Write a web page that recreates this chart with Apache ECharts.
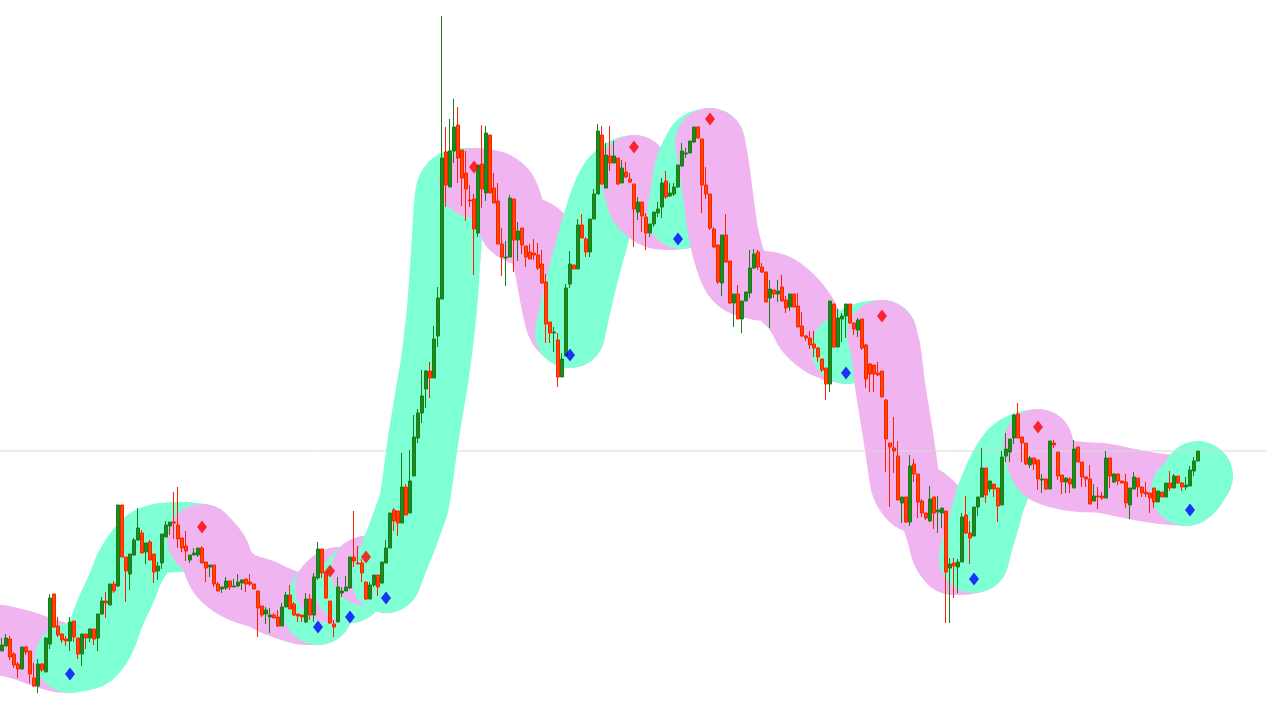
<!DOCTYPE html>
<html>
<head>
<meta charset="utf-8">
<script src="https://cdn.jsdelivr.net/npm/echarts/dist/echarts.min.js"></script>
<style>
html,body{margin:0;padding:0;background:#ffffff;}
#chart{width:1266px;height:702px;}
</style>
</head>
<body>
<div id="chart"></div>
<script>
// Price scale: larger number = lower on screen (axis inverted).
// Each candle: [open, close, wickTop, wickBottom]
const candles = [
[651,645,638,651],[646,638,634,646],[639,657,636,660],[654,665,652,668],[664,669,662,678],
[669,647,647,669],[647,652,646,655],[651,674,651,683],[678,686,663,687],[686,664,659,693],
[664,670,663,672],[672,638,637,672],[644,598,594,649],[594,627,594,628],[626,635,617,637],
[634,640,633,643],[639,641,636,646],[641,622,617,651],[621,637,621,642],[638,654,638,659],
[654,634,634,666],[634,638,634,649],[638,629,628,642],[629,639,629,645],[638,614,614,651],
[614,601,597,615],[601,603,592,618],[605,584,584,605],[584,591,581,593],[586,505,505,587],
[505,557,505,557],[557,571,557,602],[574,554,554,590],[555,540,538,556],[540,528,508,541],
[533,553,530,553],[552,543,543,564],[542,560,540,560],[554,572,554,583],[571,566,562,580],
[563,534,534,569],[537,525,521,537],[526,522,522,535],[522,523,492,539],[525,539,487,548],
[538,548,538,552],[546,551,531,561],[560,555,555,563],[555,553,548,555],[555,548,548,557],
[548,563,546,563],[562,568,562,582],[567,565,565,577],[565,584,565,587],[584,591,582,591],
[589,587,587,593],[588,581,577,590],[581,587,581,590],[587,586,579,587],[586,582,574,587],
[583,580,579,590],[579,584,579,592],[582,584,574,586],[584,589,584,589],[591,608,591,637],
[606,615,606,617],[614,610,607,624],[617,615,608,633],[615,618,613,618],[617,626,610,627],
[626,607,603,626],[607,595,592,607],[595,609,585,609],[604,615,602,616],[614,616,614,622],
[615,617,615,622],[622,599,593,623],[599,615,594,620],[615,577,573,622],[578,549,542,580],
[549,573,549,578],[572,598,572,599],[601,623,601,624],[624,627,620,637],[622,587,577,622],
[593,591,587,597],[591,587,576,591],[588,557,557,589],[557,561,511,567],[563,564,546,564],
[563,573,559,582],[582,599,582,600],[599,585,582,599],[585,575,575,587],[575,587,575,596],
[583,562,562,584],[563,548,540,563],[548,513,513,548],[510,521,508,531],[511,523,511,536],
[523,487,453,523],[487,515,484,515],[513,481,450,513],[476,437,415,476],[438,413,409,443],
[413,396,370,423],[389,371,370,408],[371,378,362,398],[378,339,326,378],[336,298,287,347],
[299,158,16,299],[152,185,127,207],[187,151,119,187],[151,127,99,163],[125,158,107,183],
[150,178,150,206],[173,189,151,221],[200,201,185,207],[199,229,194,275],[233,165,165,237],
[164,189,125,208],[193,133,126,201],[135,193,135,193],[188,203,173,203],[201,244,183,244],
[244,257,228,276],[258,257,241,286],[257,198,195,257],[199,240,199,272],[240,231,222,261],
[228,245,228,254],[246,257,246,267],[252,259,244,259],[253,255,239,260],[255,268,243,270],
[264,283,250,284],[282,324,274,343],[322,333,322,343],[333,332,327,352],[340,377,333,387],
[377,359,353,377],[356,288,284,356],[284,264,251,288],[265,269,265,269],[269,225,219,269],
[225,238,214,238],[239,252,237,257],[252,219,219,257],[219,194,189,219],[194,131,124,194],
[135,184,126,185],[188,155,143,188],[156,163,126,171],[163,156,141,163],[158,184,158,185],
[183,168,160,183],[172,177,162,178],[179,182,173,183],[184,209,184,247],[212,202,197,220],
[202,216,202,232],[217,233,213,250],[233,224,224,237],[224,212,212,227],[213,209,202,217],
[207,183,178,218],[181,197,171,199],[196,193,183,197],[194,187,183,196],[187,165,165,188],
[166,151,143,167],[154,153,148,158],[153,141,141,153],[142,127,127,143],[127,138,126,138],
[139,185,139,213],[185,194,167,199],[194,228,194,230],[229,247,227,248],[245,282,245,284],
[283,235,235,296],[235,262,214,263],[261,303,261,304],[303,294,294,327],[294,319,285,319],
[319,301,301,333],[301,292,292,301],[293,268,250,298],[268,254,249,269],[252,267,250,270],
[267,272,263,273],[272,302,272,302],[298,289,280,328],[290,294,290,298],[294,291,280,302],
[287,301,275,301],[300,308,296,313],[307,294,294,311],[294,307,294,307],[306,327,293,327],
[326,336,312,337],[336,338,335,341],[338,345,331,349],[344,348,331,357],[348,357,347,362],
[359,370,359,372],[368,384,368,400],[384,301,301,392],[304,347,304,348],[347,318,309,347],
[319,316,313,342],[316,304,304,338],[304,323,304,324],[323,329,323,335],[330,320,318,337],
[319,348,319,350],[345,379,344,388],[364,374,363,392],[365,374,365,392],[373,375,362,376],
[371,397,371,397],[400,439,399,472],[443,447,443,507],[448,451,417,473],[456,500,441,500],
[503,497,497,523],[497,522,497,523],[522,466,455,526],[464,474,459,482],[474,502,474,518],
[501,513,499,517],[513,518,513,520],[521,499,486,522],[497,513,497,529],[512,510,496,533],
[513,508,508,528],[511,572,511,623],[568,564,558,623],[563,566,558,598],[567,562,559,593],
[562,517,513,562],[515,533,496,534],[533,538,521,564],[536,507,507,536],[507,497,497,516],
[497,468,448,497],[468,495,468,503],[489,481,481,492],[484,489,484,497],[488,506,488,522],
[505,457,451,505],[456,449,433,462],[452,439,439,462],[438,415,414,444],[414,438,403,438],
[437,443,437,462],[443,464,443,465],[465,458,456,468],[458,464,458,470],[460,479,460,490],
[480,479,474,493],[479,489,479,490],[489,441,441,489],[443,445,440,448],[452,476,452,480],
[475,482,475,494],[482,478,478,493],[479,484,477,493],[488,449,440,488],[447,462,447,462],
[462,477,462,487],[477,479,476,487],[479,504,465,504],[501,496,484,501],[496,497,487,509],
[496,498,492,500],[498,458,451,498],[458,476,458,488],[482,474,473,483],[474,481,474,485],
[481,483,481,483],[482,503,474,508],[505,488,488,519],[489,477,472,489],[478,487,478,497],
[487,493,487,497],[492,494,482,497],[493,498,493,513],[488,502,488,508],[502,491,491,502],
[492,497,492,497],[497,483,483,497],[483,488,471,491],[488,476,474,488],[476,483,476,484],
[483,487,482,491],[487,485,477,490],[486,470,466,486],[471,461,457,476],[461,451,451,461]
];

// Trend band centre line: [bar index, value]
const bandKnots = [
[0,640],[5,645],[10,652],[14,657],[17,658],
[20,656],[22,653],[24,643],[25,635],[27,613],[30,587],[32,567],[35,549],[37,542],[40,538],[46,537],[50,539],
[53,553],[55,572],[58,583],[61,589],[65,594],[68,600],[72,606],[76,610],[79,610],
[80,600],[82,588],
[84,582],[87,588],
[89,578],[91,571],
[93,572],[96,578],
[98,557],[100,537],[102,515],[103,503],[104,478],[105,448],[106,422],[107,398],[108,374],[109,345],[110,308],[111,252],[112,195],[113,186],[115,183],[118,183],
[121,184],[123,186],[125,192],[126,200],[127,214],[128,225],[130,230],[133,234],[135,242],[136,252],[137,270],[138,292],[139,312],[140,325],[142,333],
[143,315],[145,280],[147,250],[149,222],[151,198],[153,182],[156,172],[158,170],
[159,185],[160,200],[162,210],[164,214],[167,215],[170,214],
[171,190],[172,168],[174,150],[175,145],[177,143],
[178,165],[179,195],[180,225],[181,245],[183,270],[185,280],[189,285],[193,288],[197,300],[200,315],[202,330],[206,343],[211,349],
[213,343],[216,337],[220,335],
[221,352],[222,385],[223,410],[224,435],[225,462],[226,485],[228,497],[230,500],[231,503],[233,512],[235,535],[236,550],[238,560],[240,560],[243,558],
[244,542],[246,515],[247,500],[249,480],[251,464],[253,453],[256,446],[259,444],
[260,460],[261,468],[263,472],[266,475],[270,477],[275,478],[280,482],[285,486],[290,489],[293,490],[296,491],
[297,488],[298,482],[299,476]
];

// Bars where the band changes colour; the first stretch is falling
const trendTurns = [17,50,79,82,87,91,96,118,142,158,170,177,211,220,243,259,296];
const firstTrend = 'down';

// Stretch of the band that is painted over the level line (the line passes beneath it)
const bandOverLevel = [96, 108];

// Signal diamonds: [bar index, value]
const peakMarks = [[50,527],[82,571],[91,557],[118,167],[158,147],[177,119],[220,316],[259,427]];
const troughMarks = [[17,674],[79,627],[87,617],[96,598],[142,355],[169,239],[211,373],[243,579],[297,510]];

// Horizontal level line
const levelValue = 451;

const categories = candles.map((_, i) => String(i + 1));

const UP_BAND = '#7fffd4';
const DOWN_BAND = '#f0b5f0';

function bandLine(pts, color) {
  return {
    type: 'line',
    xAxisIndex: 0, yAxisIndex: 0,
    data: pts,
    symbol: 'none',
    showSymbol: false,
    smooth: 0.3,
    clip: false,
    silent: true,
    animation: false,
    lineStyle: { width: 70, color: color, cap: 'round', join: 'round', opacity: 1 },
    z: 1
  };
}

const bounds = [0].concat(trendTurns, [candles.length - 1]);
const bandSeries = [];
let overColor = UP_BAND;
for (let k = 0; k < bounds.length - 1; k++) {
  const a = bounds[k], b = bounds[k + 1];
  const pts = bandKnots.filter(p => p[0] >= a && p[0] <= b);
  const rising = (k % 2 === 0) ? (firstTrend === 'up') : (firstTrend !== 'up');
  if (a <= bandOverLevel[0] && b >= bandOverLevel[1]) overColor = rising ? UP_BAND : DOWN_BAND;
  bandSeries.push(bandLine(pts, rising ? UP_BAND : DOWN_BAND));
}
const overSeries = bandLine(bandKnots.filter(p => p[0] >= bandOverLevel[0] && p[0] <= bandOverLevel[1]), overColor);
overSeries.lineStyle.cap = 'butt';

const chart = echarts.init(document.getElementById('chart'), null, { renderer: 'canvas' });
chart.setOption({
  animation: false,
  backgroundColor: '#ffffff',
  grid: [
    { left: 0, right: 66, top: 0, bottom: 0 },
    { left: 0, right: 0, top: 0, bottom: 0 }
  ],
  xAxis: [
    { type: 'category', data: categories, boundaryGap: true, show: false, gridIndex: 0 },
    { type: 'value', min: 0, max: 1, show: false, gridIndex: 1 }
  ],
  yAxis: [
    { type: 'value', min: 0, max: 702, inverse: true, show: false, gridIndex: 0 },
    { type: 'value', min: 0, max: 702, inverse: true, show: false, gridIndex: 1 }
  ],
  series: bandSeries.concat([
    {
      type: 'line',
      xAxisIndex: 1, yAxisIndex: 1,
      data: [[0, levelValue], [1, levelValue]],
      symbol: 'none',
      silent: true,
      lineStyle: { color: '#d8d8d8', width: 1 },
      z: 1
    },
    overSeries,
    {
      type: 'candlestick',
      xAxisIndex: 0, yAxisIndex: 0,
      data: candles,
      barWidth: 3,
      silent: true,
      itemStyle: {
        color: '#ff4a00',
        color0: '#1e8a1e',
        borderColor: '#ff2000',
        borderColor0: '#1a7d1a',
        borderWidth: 1
      },
      z: 3
    },
    {
      type: 'scatter',
      xAxisIndex: 0, yAxisIndex: 0,
      data: peakMarks,
      symbol: 'diamond',
      symbolSize: [10, 13],
      itemStyle: { color: '#ff0000' },
      silent: true,
      z: 4
    },
    {
      type: 'scatter',
      xAxisIndex: 0, yAxisIndex: 0,
      data: troughMarks,
      symbol: 'diamond',
      symbolSize: [10, 13],
      itemStyle: { color: '#0000ff' },
      silent: true,
      z: 4
    }
  ])
});
</script>
</body>
</html>
